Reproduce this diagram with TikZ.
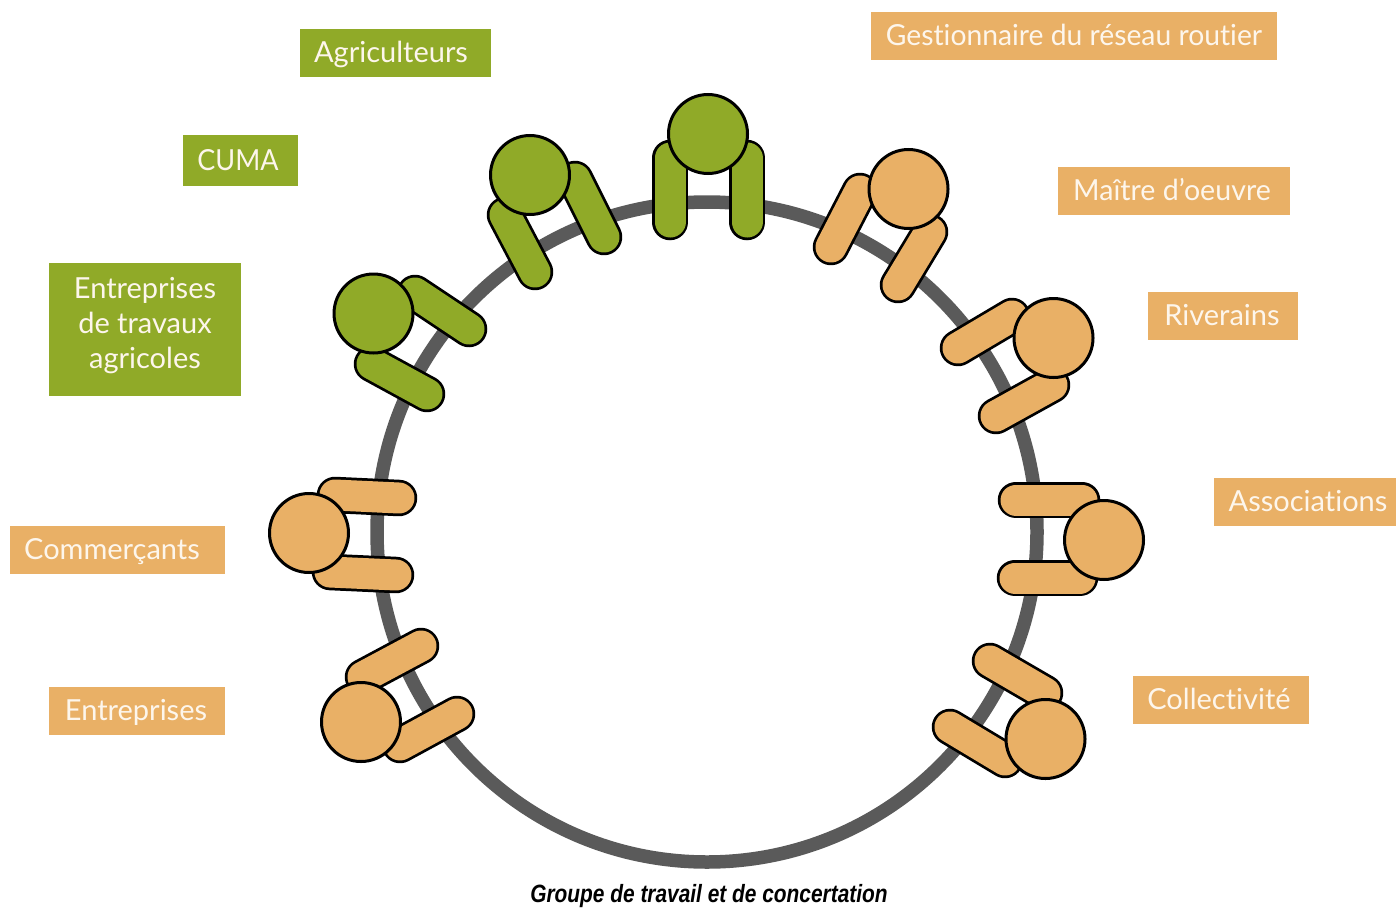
\documentclass[tikz,border=0pt]{standalone}
\usepackage{fontspec}
\setmainfont{Lato}[Ligatures=NoCommon]
\newfontfamily\capfont{Liberation Sans}
\definecolor{vert}{HTML}{90AA28}
\definecolor{orange}{HTML}{E9B066}
\definecolor{anneau}{HTML}{5A5A5A}
\definecolor{texte}{HTML}{FDF6EC}
\tikzset{
  x=1pt,y=-1pt,
  ring/.style={draw=anneau,line width=13.5pt},
  head/.style={circle,draw=black,line width=3pt,minimum size=79pt,inner sep=0pt},
  tag/.style={text=texte,font=\fontsize{29}{35}\selectfont,align=center},
}
\newcommand{\arm}[3]{%
  \draw[black,line width=36.5pt,line cap=round] (#2)--(#3);
  \draw[#1,line width=31pt,line cap=round] (#2)--(#3);}
\newcommand{\person}[6]{% colour, head, arm1 a,b, arm2 a,b
  \arm{#1}{#3}{#4}\arm{#1}{#5}{#6}
  \node[head,fill=#1] at (#2) {};}
\newcommand{\tagbox}[8]{% name,colour,x1,y1,x2,y2,text centre,text
  \path[fill=#2] (#3,#4) rectangle (#5,#6);
  \node[tag] (#1) at (#7) {#8};}
\begin{document}
\begin{tikzpicture}
\useasboundingbox (0,0) rectangle (1396,907);
\draw[ring] (707,532) circle (330);
\person{vert}{708,134}{670,158}{670,222}{747,158}{747,222}
\person{vert}{530,175}{505,215}{535,272}{575,179}{604,237}
\person{vert}{373.5,313.5}{372,364}{427,394}{415,293}{469,329}
\person{orange}{908.5,189}{860,191}{831,247}{930,232}{898,285}
\person{orange}{1053.5,338}{1012,316}{958,348}{1052,385}{996,416}
\person{orange}{1104,540}{1082,500}{1016,500}{1080,578}{1015,578}
\person{orange}{1045.5,739}{1045,693}{990,661}{1005,760}{950,727}
\person{orange}{309,533}{335,495}{399,498}{330,572}{396,575}
\person{orange}{361,722}{363,677}{421,646}{400,745}{457,714}
\tagbox{a}{vert}{300}{29}{491}{77}{391,54.5}{Agriculteurs}
\tagbox{b}{vert}{183}{135}{298}{186}{238,160}{\scalebox{0.93}[1]{CUMA}}
\tagbox{c}{vert}{49}{263}{241}{396}{145,326}{Entreprises\\de travaux\\agricoles}
\tagbox{d}{orange}{871}{12}{1277}{60}{1074,35}{\scalebox{0.975}[1]{Gestionnaire du réseau routier}}
\tagbox{e}{orange}{1058}{167}{1290}{215}{1172,190}{\scalebox{0.985}[1]{Maître d’oeuvre}}
\tagbox{f}{orange}{1148}{292}{1298}{340}{1222,315.5}{Riverains}
\tagbox{g}{orange}{1214}{478}{1396}{526}{1308,501}{Associations}
\tagbox{h}{orange}{1133}{676}{1309}{724}{1219,699}{Collectivité}
\tagbox{i}{orange}{10}{526}{225}{574}{112,551.5}{Commerçants}
\tagbox{j}{orange}{49}{687}{225}{735}{136,712.5}{Entreprises}
\node[font=\capfont\bfseries\itshape\fontsize{25}{29}\selectfont] (k) at (709,896) {\scalebox{0.835}[1]{Groupe de travail et de concertation}};
\end{tikzpicture}
\end{document}
